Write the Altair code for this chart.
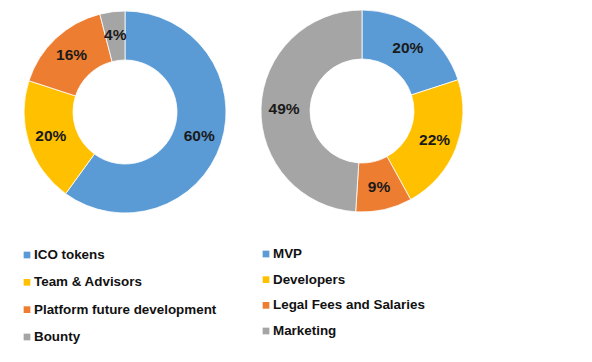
import altair as alt
import pandas as pd

# Left donut
left_cats = ["ICO tokens", "Team & Advisors", "Platform future development", "Bounty"]
left_vals = [60, 20, 16, 4]
left_legend_labels = ["\u00a0ICO tokens", "Team & Advisors", "Platform future development", "Bounty"]

# Right donut
right_cats = ["MVP", "Developers", "Legal Fees and Salaries", "Marketing"]
right_vals = [20, 22, 9, 49]

palette = ["#5B9BD5", "#FFC000", "#ED7D31", "#A5A5A5"]

left_df = pd.DataFrame({"cat": left_cats, "val": left_vals, "idx": list(range(4)),
                        "lab": [f"{v}%" for v in left_vals], "leg": left_legend_labels})
right_df = pd.DataFrame({"cat": right_cats, "val": right_vals, "idx": list(range(4)),
                         "lab": [f"{v}%" for v in right_vals], "leg": right_cats})

color_scale = alt.Scale(domain=left_cats + right_cats, range=palette + palette)
FONT = "Liberation Sans"


def donut(df, cx, cy):
    base = alt.Chart(df)
    arc = base.mark_arc(outerRadius=101, innerRadius=52, stroke="#ffffff", strokeWidth=0.8).encode(
        theta=alt.Theta("val:Q", stack=True, scale=alt.Scale(domain=[0, 100])),
        color=alt.Color("cat:N", scale=color_scale, legend=None),
        order=alt.Order("idx:Q"),
        x=alt.value(cx), y=alt.value(cy),
    )
    txt = base.mark_text(radius=78, fontSize=15.5, fontWeight="bold", font=FONT, color="#1a1a1a").encode(
        theta=alt.Theta("val:Q", stack=True, scale=alt.Scale(domain=[0, 100])),
        text="lab:N",
        order=alt.Order("idx:Q"),
        x=alt.value(cx), y=alt.value(cy),
    )
    return arc, txt


def legend(df, sx, tx, y0, y1):
    base = alt.Chart(df)
    yenc = alt.Y("idx:Q", scale=alt.Scale(domain=[0, 3], range=[y0, y1]), axis=None)
    sq = base.mark_square(size=45, opacity=1).encode(
        x=alt.value(sx), y=yenc,
        color=alt.Color("cat:N", scale=color_scale, legend=None),
    )
    t = base.mark_text(align="left", baseline="middle", fontSize=13.4, fontWeight="bold",
                       font=FONT, color="#111111").encode(
        x=alt.value(tx), y=yenc, text="leg:N",
    )
    return sq, t


la, lt = donut(left_df, 117, 104)
ra, rt = donut(right_df, 354, 103)
lsq, ltx = legend(left_df, 19, 26, 247, 329)
rsq, rtx = legend(right_df, 258, 265, 246, 323)

chart = alt.layer(la, lt, ra, rt, lsq, ltx, rsq, rtx).resolve_scale(
    theta="independent", y="independent"
).properties(
    width=576, height=346, autosize="none", padding=0
).configure_view(stroke=None)

chart.save("out.html", embed_options={"renderer": "svg", "actions": False})
